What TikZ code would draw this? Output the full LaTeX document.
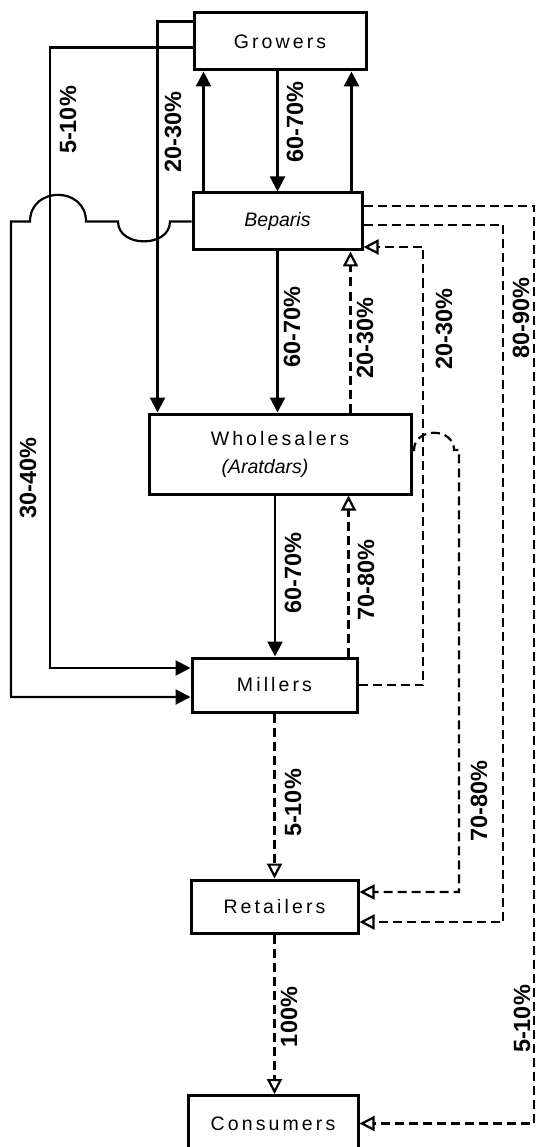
\documentclass[tikz,border=0pt]{standalone}
\usepackage{fontspec}
\setmainfont{Liberation Sans}
\newfontfamily\boxfont[LetterSpace=16]{Liberation Sans}
\usepackage{tikz}
\usetikzlibrary{arrows.meta}

\begin{document}
\begin{tikzpicture}[x=1pt, y=-1pt,
    box/.style={draw, line width=3pt, inner sep=0pt,
      font=\boxfont\fontsize{19.5}{25}\selectfont},
    flow/.style={line width=2.2pt, -{Triangle[width=15pt,length=15pt]}},
    dflow/.style={line width=2.2pt, dash pattern=on 9pt off 5pt,
      -{Triangle[open,width=15pt,length=15pt,fill=white]}},
    share/.style={rotate=90, inner sep=0pt,
      font=\bfseries\fontsize{23.5}{23.5}\selectfont}]
  \useasboundingbox (0,0) rectangle (538,1147);
  \node[box, minimum width=172pt, minimum height=57pt] (grow) at (280,41.5) {Growers};
  \node[box, minimum width=169pt, minimum height=57pt,
    font=\rmfamily\itshape\fontsize{19.5}{25}\selectfont] (bep) at (277.5,221.5) {Beparis};
  \node[box, minimum width=262pt, minimum height=80pt, align=center] (who) at (280,454)
    {Wholesalers\\[3pt]{\rmfamily\itshape (Aratdars)}\hspace*{30pt}};
  \node[box, minimum width=165pt, minimum height=54pt] (mil) at (274.5,685) {Millers};
  \node[box, minimum width=167pt, minimum height=53pt] (ret) at (274.5,906.5) {Retailers};
  \node[box, minimum width=170pt, minimum height=56pt] (con) at (273,1123.5) {Consumers};

  \coordinate (c1) at (50,400);
  \coordinate (c2) at (11,400);
  \coordinate (c3) at (423,400);
  \coordinate (c4) at (534,600);
  \coordinate (c5) at (503,600);
  \coordinate (c6) at (459,600);

  \draw[flow] (grow.south -| bep.north) -- (bep.north);
  \draw[flow, line width=2.8pt] ([xshift=12pt]bep.north west) -- ([xshift=12pt]bep.north west |- grow.south);
  \draw[flow, line width=2.8pt] ([xshift=-12pt]bep.north east) -- ([xshift=-12pt]bep.north east |- grow.south);
  \draw[flow] ([yshift=-10pt]grow.north west) -| ([xshift=10pt]who.north west);
  \draw[flow] ([yshift=-36pt]grow.north west) -| (c1) |- ([yshift=17pt]mil.west);
  \draw[flow] (bep.west) -- (170,221.5) .. controls (170,248) and (118,248) .. (118,221.5)
    -- (86,221.5) .. controls (86,186) and (30,186) .. (30,221.5) -| (c2) |- ([yshift=-12pt]mil.west);
  \draw[flow] (bep.south) -- (bep.south |- who.north);
  \draw[dflow] ([xshift=-62pt]who.north east) -- ([xshift=-62pt]who.north east |- bep.south);
  \draw[dflow] (mil.east) -| (c3) |- ([yshift=-25.5pt]bep.east);
  \draw[dflow] ([yshift=15.5pt]bep.east) -| (c4) |- (con.east);
  \draw[dflow] ([yshift=-3.5pt]bep.east) -| (c5) |- ([yshift=-15.5pt]ret.east);
  \draw[dflow] ([yshift=4pt]who.east) -- (414,450) .. controls (414,427) and (454,427) .. (454,450)
    -| (c6) |- ([yshift=14.5pt]ret.east);
  \draw[flow] ([xshift=-5pt]who.south) -- ([xshift=-5pt]who.south |- mil.north);
  \draw[dflow] ([xshift=-10pt]mil.north east) -- ([xshift=-10pt]mil.north east |- who.south);
  \draw[dflow] (mil.south) -- (mil.south |- ret.north);
  \draw[dflow] (ret.south) -- (ret.south |- con.north);

  \node[share] (s1) at (68,120) {5-10\%};
  \node[share] (s2) at (173,132) {20-30\%};
  \node[share] (s3) at (295,122) {60-70\%};
  \node[share] (s4) at (28,478) {30-40\%};
  \node[share] (s5) at (292,327) {60-70\%};
  \node[share] (s6) at (365,338) {20-30\%};
  \node[share] (s7) at (444,329) {20-30\%};
  \node[share] (s8) at (521,318) {80-90\%};
  \node[share] (s9) at (293,573) {60-70\%};
  \node[share] (s10) at (366,580) {70-80\%};
  \node[share] (s11) at (293,803) {5-10\%};
  \node[share] (s12) at (479,801) {70-80\%};
  \node[share] (s13) at (289,1017) {100\%};
  \node[share] (s14) at (522,1019) {5-10\%};
\end{tikzpicture}
\end{document}
